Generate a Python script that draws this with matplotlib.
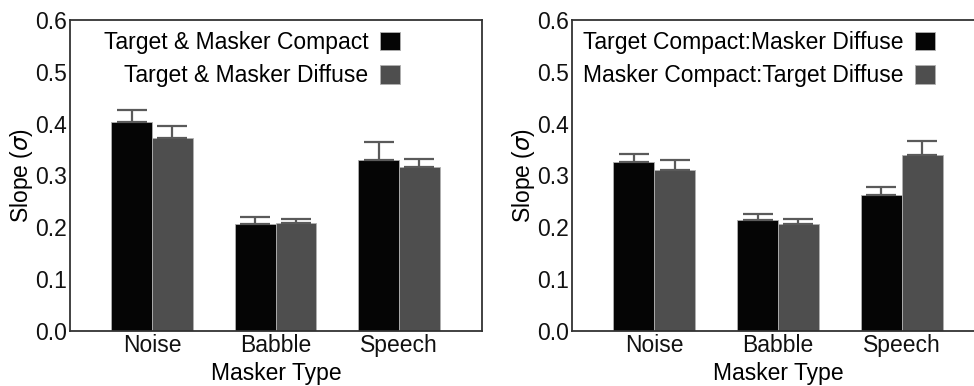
import numpy as np
import matplotlib.pyplot as plt

plt.rcParams['font.family'] = ['Liberation Sans', 'DejaVu Sans']
plt.rcParams['mathtext.fontset'] = 'dejavusans'

maskers = ['Noise', 'Babble', 'Speech']

# левая панель
same_labels = ['Target & Masker Compact', 'Target & Masker Diffuse']
same_compact = [0.403, 0.207, 0.329]
same_compact_err = [0.024, 0.013, 0.036]
same_diffuse = [0.373, 0.209, 0.317]
same_diffuse_err = [0.023, 0.008, 0.015]

# правая панель
mixed_labels = ['Target Compact:Masker Diffuse', 'Masker Compact:Target Diffuse']
mixed_tc = [0.327, 0.214, 0.262]
mixed_tc_err = [0.014, 0.011, 0.015]
mixed_mc = [0.310, 0.206, 0.339]
mixed_mc_err = [0.019, 0.011, 0.028]

colors = ['#050505', '#4e4e4e']
err_color = '#5a5a5a'
fs = 16.5


def draw_panel(ax, first, first_err, second, second_err, labels, anchor_x):
    x = np.arange(len(maskers))
    w = 0.33
    for off, vals, errs, col, lab in [(-w / 2, first, first_err, colors[0], labels[0]),
                                      (w / 2, second, second_err, colors[1], labels[1])]:
        ax.bar(x + off, vals, w, color=col, edgecolor='#b0b0b0', linewidth=0.6, label=lab)
        ax.errorbar(x + off, vals, yerr=[np.zeros(len(vals)), errs], fmt='none',
                    ecolor=err_color, elinewidth=1.6, capsize=11, capthick=1.6)
    ax.set_xlim(-0.664, 2.672)
    ax.set_ylim(0, 0.6)
    ax.set_yticks(np.arange(0, 0.61, 0.1))
    ax.set_yticklabels([f'{v:.1f}' for v in np.arange(0, 0.61, 0.1)])
    ax.set_xticks(x)
    ax.set_xticklabels(maskers)
    ax.tick_params(length=0, labelsize=fs, pad=2, colors='#111111')
    for s in ax.spines.values():
        s.set_linewidth(1.3)
        s.set_color('#333333')
    ax.set_xlabel('Masker Type', fontsize=fs, labelpad=3.5)
    ax.set_ylabel(r'Slope ($\sigma$)', fontsize=fs, labelpad=0)
    ax.legend(loc='upper right', bbox_to_anchor=(anchor_x, 0.965), frameon=False,
              markerfirst=False, fontsize=fs, handlelength=0.87, handleheight=0.87,
              handletextpad=0.5, labelspacing=0.45, borderpad=0, borderaxespad=0)


fig = plt.figure(figsize=(9.74, 3.86), dpi=100)
ax1 = fig.add_axes([70 / 974, 55 / 386, 412 / 974, 311 / 386])
ax2 = fig.add_axes([572 / 974, 55 / 386, 413 / 974, 311 / 386])

draw_panel(ax1, same_compact, same_compact_err, same_diffuse, same_diffuse_err,
           same_labels, 330 / 412)
draw_panel(ax2, mixed_tc, mixed_tc_err, mixed_mc, mixed_mc_err,
           mixed_labels, 363 / 413)

fig.savefig('out.png', dpi=100)
